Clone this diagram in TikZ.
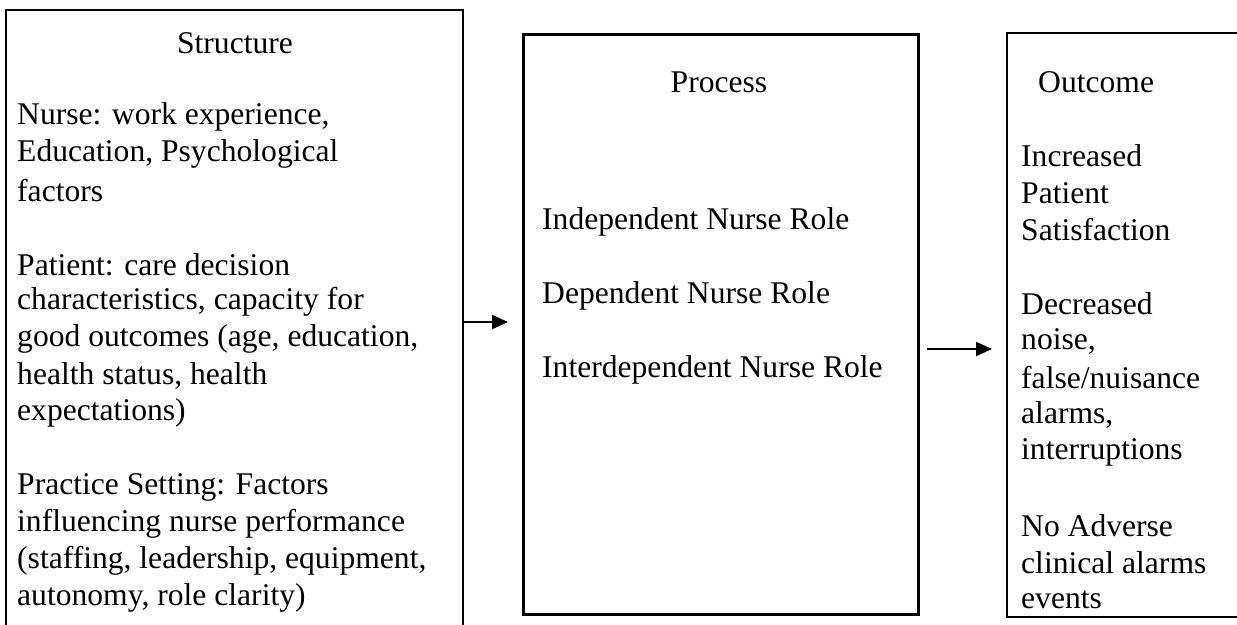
\documentclass[tikz,border=0pt]{standalone}
\usepackage{fontspec}
\setmainfont{Liberation Serif}
\usetikzlibrary{arrows.meta}
\tikzset{
  boxline/.style={draw=black, line width=2.5pt},
  txt/.style={anchor=west, inner sep=0pt, font=\fontsize{31.6}{37}\selectfont},
  ttl/.style={anchor=center, inner sep=0pt, font=\fontsize{31.6}{37}\selectfont},
  flow/.style={line width=2pt, -{Triangle[length=16pt,width=14pt]}}
}
\begin{document}
\begin{tikzpicture}[x=1pt,y=-1pt]
\useasboundingbox (0,0) rectangle (1237,624);
% boxes
\draw[boxline] (6,640) -- (6,10) -- (463,10) -- (463,640);
\node[boxline, minimum width=395pt, minimum height=580pt, anchor=north west, inner sep=0pt] (proc) at (522,33) {};
\draw[boxline] (1250,33) -- (1007,33) -- (1007,617) -- (1250,617);
\coordinate (s1) at (463,322);
\coordinate (e1) at (508,322);
\coordinate (s2) at (927,349);
\coordinate (e2) at (992,349);
\draw[flow] (s1) -- (e1);
\draw[flow] (s2) -- (e2);
% Structure
\node[ttl] (t1) at (235,43) {Structure};
\node[txt] (a1) at (17,117) {Nurse: work experience,};
\node[txt] (a2) at (17,154) {Education, Psychological};
\node[txt] (a3) at (17,191) {factors};
\node[txt] (b1) at (17,265) {Patient: care decision};
\node[txt] (b2) at (17,302) {characteristics, capacity for};
\node[txt] (b3) at (17,339) {good outcomes (age, education,};
\node[txt] (b4) at (17,376) {health status, health};
\node[txt] (b5) at (17,413) {expectations)};
\node[txt] (c1) at (17,487) {Practice Setting: Factors};
\node[txt] (c2) at (17,524) {influencing nurse performance};
\node[txt] (c3) at (17,561) {(staffing, leadership, equipment,};
\node[txt] (c4) at (17,598) {autonomy, role clarity)};
% Process
\node[ttl] (t2) at (719,82) {Process};
\node[txt] (p1) at (542,222) {Independent Nurse Role};
\node[txt] (p2) at (542,296) {Dependent Nurse Role};
\node[txt] (p3) at (542,370) {Interdependent Nurse Role};
% Outcome
\node[txt] (t3) at (1038,82) {Outcome};
\node[txt] (o1) at (1021,156) {Increased};
\node[txt] (o2) at (1021,193) {Patient};
\node[txt] (o3) at (1021,230) {Satisfaction};
\node[txt] (o4) at (1021,304) {Decreased};
\node[txt] (o5) at (1021,341) {noise,};
\node[txt] (o6) at (1021,378) {false/nuisance};
\node[txt] (o7) at (1021,415) {alarms,};
\node[txt] (o8) at (1021,452) {interruptions};
\node[txt] (o9) at (1021,526) {No Adverse};
\node[txt] (o10) at (1021,563) {clinical alarms};
\node[txt] (o11) at (1021,600) {events};
\end{tikzpicture}
\end{document}
